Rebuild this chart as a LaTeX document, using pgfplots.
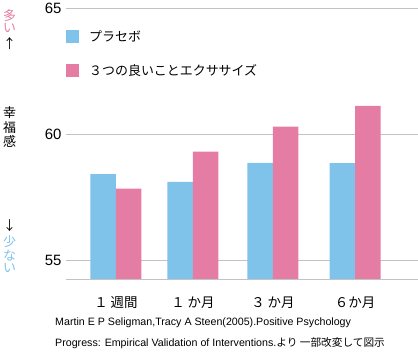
\documentclass[border=0pt]{standalone}
\usepackage{pgfplots}
\pgfplotsset{compat=1.18}
\usepackage{fontspec}
\setmainfont{Noto Sans CJK JP}
\newfontfamily\latin{Liberation Sans}
\definecolor{cblue}{RGB}{127,194,234}
\definecolor{cpink}{RGB}{229,124,164}
\definecolor{cgrid}{RGB}{195,195,195}
\begin{document}
\begin{tikzpicture}
\useasboundingbox (-66bp,-77bp) rectangle (352bp,279bp);
\begin{axis}[
  at={(0,0)}, anchor=south west,
  scale only axis, width=352bp, height=271bp,
  xmin=-0.627, xmax=3.79, ymin=54.25, ymax=65,
  ybar=0pt, bar width=25.5bp,
  axis x line*=bottom, axis y line*=left,
  x axis line style={cgrid, line width=0.9pt, -},
  y axis line style={draw=none},
  major tick length=0pt,
  ymajorgrids, grid style={cgrid, line width=0.9pt},
  ytick={55,60,65},
  xtick={0,0.966,1.97,3.0},
  xticklabels={１ 週間,１ か月,３ か月,６か月},
  xticklabel style={font=\fontsize{13.5}{13.5}\selectfont, yshift=-14bp},
  yticklabel style={font=\latin\fontsize{15}{15}\selectfont, xshift=-1bp},
  /pgf/number format/assume math mode=true,
  legend style={at={(0,1)}, anchor=north west, yshift=-22bp, draw=none, fill=none,
    font=\fontsize{13}{13}\selectfont, row sep=21bp, inner sep=0pt,
    nodes={inner sep=0pt},
    /tikz/every odd column/.style={column sep=10bp}},
  legend cell align=left,
  legend image code/.code={\fill[#1] (0bp,-6.5bp) rectangle (13bp,6.5bp);},
]
\addplot[fill=cblue, draw=none] coordinates {(0,58.41) (0.966,58.10) (1.97,58.86) (3.0,58.85)};
\addplot[fill=cpink, draw=none] coordinates {(0,57.83) (0.966,59.30) (1.97,60.29) (3.0,61.12)};
\legend{プラセボ, ３つの良いことエクササイズ}
\end{axis}
\begin{scope}[every node/.append style={font=\fontsize{13}{13}\selectfont, inner sep=0pt}]
\node[text=cpink] at (-56.5bp,263bp) {多};
\node[text=cpink] at (-56.5bp,251bp) {い};
\node at (-56.5bp,235bp) {↑};
\node at (-56.5bp,166bp) {幸};
\node at (-56.5bp,151.5bp) {福};
\node at (-56.5bp,137.5bp) {感};
\node at (-56.5bp,53bp) {↓};
\node[text=cblue] at (-56.5bp,37bp) {少};
\node[text=cblue] at (-56.5bp,23bp) {な};
\node[text=cblue] at (-56.5bp,11bp) {い};
\end{scope}
\node[anchor=west, inner sep=0pt, font=\fontsize{10.7}{11}\selectfont] at (-11bp,-44bp) {\latin Martin E P Seligman,Tracy A Steen(2005).Positive Psychology};
\node[anchor=west, inner sep=0pt, font=\fontsize{10.7}{11}\selectfont] at (-11bp,-64bp) {{\latin Progress: Empirical Validation of Interventions.}より 一部改変して図示};
\end{tikzpicture}
\end{document}
